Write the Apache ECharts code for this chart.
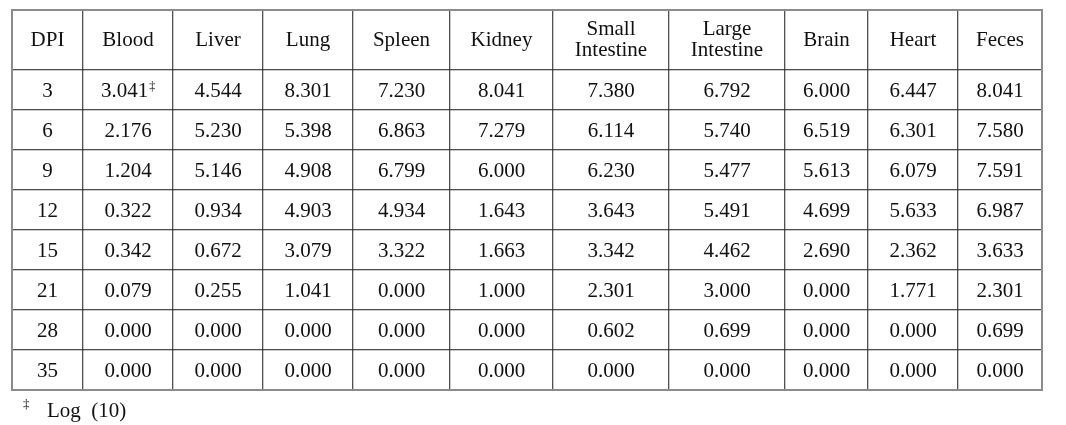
<!DOCTYPE html>
<html>
<head>
<meta charset="utf-8">
<script src="https://cdn.jsdelivr.net/npm/echarts@6/dist/echarts.min.js"></script>
<style>
html,body{margin:0;padding:0;background:#fff;}
#c{width:1066px;height:425px;}
</style>
</head>
<body>
<div id="c"></div>
<script>
// ---- data ----
const columns = ['DPI','Blood','Liver','Lung','Spleen','Kidney','Small\nIntestine','Large\nIntestine','Brain','Heart','Feces'];
const dpi = ['3','6','9','12','15','21','28','35'];
const blood = [3.041,2.176,1.204,0.322,0.342,0.079,0.000,0.000];
const liver = [4.544,5.230,5.146,0.934,0.672,0.255,0.000,0.000];
const lung = [8.301,5.398,4.908,4.903,3.079,1.041,0.000,0.000];
const spleen = [7.230,6.863,6.799,4.934,3.322,0.000,0.000,0.000];
const kidney = [8.041,7.279,6.000,1.643,1.663,1.000,0.000,0.000];
const smallIntestine = [7.380,6.114,6.230,3.643,3.342,2.301,0.602,0.000];
const largeIntestine = [6.792,5.740,5.477,5.491,4.462,3.000,0.699,0.000];
const brain = [6.000,6.519,5.613,4.699,2.690,0.000,0.000,0.000];
const heart = [6.447,6.301,6.079,5.633,2.362,1.771,0.000,0.000];
const feces = [8.041,7.580,7.591,6.987,3.633,2.301,0.699,0.000];
const footnoteMark = '\u2021';
const footnoteText = 'Log\u2002(10)';

// ---- layout ----
const colEdges = [12,83,173,263,353,450,553,669,785,868,958,1042];
const tableTop = 10, headerH = 60, bodyH = 320;
const FONT = '"Liberation Serif", "Times New Roman", serif';
const FS = 21;

const values = [null, blood, liver, lung, spleen, kidney, smallIntestine, largeIntestine, brain, heart, feces];

const grids = [], xAxes = [], yAxes = [], series = [];
const cellStyle = {color:'#ffffff', borderColor:'#262626', borderWidth:1};

// outer frame grid (drawn above the cells)
grids.push({left:colEdges[0], top:tableTop, width:colEdges[colEdges.length-1]-colEdges[0], height:headerH+bodyH,
  show:true, borderColor:'#8c8c8c', borderWidth:2, backgroundColor:'transparent', z:10});
xAxes.push({gridIndex:0, type:'category', data:['x'], show:false});
yAxes.push({gridIndex:0, type:'category', data:['y'], show:false});

columns.forEach((name, i) => {
  const left = colEdges[i], w = colEdges[i+1]-colEdges[i];
  // header grid
  const gh = grids.length;
  grids.push({left:left, top:tableTop, width:w, height:headerH});
  xAxes.push({gridIndex:gh, type:'category', data:[name], show:false});
  yAxes.push({gridIndex:gh, type:'category', data:['h'], show:false});
  series.push({
    type:'heatmap', name:'h'+i, xAxisIndex:gh, yAxisIndex:gh,
    data:[{value:[0,0,0], txt:name}],
    itemStyle:cellStyle,
    label:{show:true, fontFamily:FONT, fontSize:FS, lineHeight:21, color:'#111',
      formatter:p=>p.data.txt},
    emphasis:{disabled:true}, silent:true
  });
  // body grid
  const gb = grids.length;
  grids.push({left:left, top:tableTop+headerH, width:w, height:bodyH});
  xAxes.push({gridIndex:gb, type:'category', data:[name], show:false});
  yAxes.push({gridIndex:gb, type:'category', data:dpi, inverse:true, show:false});
  const data = dpi.map((d, r) => {
    let txt;
    if (i === 0) txt = d;
    else {
      txt = values[i][r].toFixed(3);
      if (i === 1 && r === 0) txt += '{sup|' + footnoteMark + '}';
    }
    return {value:[0, r, i === 0 ? 0 : values[i][r]], txt:txt};
  });
  series.push({
    type:'heatmap', name:name, xAxisIndex:gb, yAxisIndex:gb,
    data:data,
    itemStyle:cellStyle,
    label:{show:true, fontFamily:FONT, fontSize:FS, color:'#111', offset:[0,1],
      formatter:p=>p.data.txt,
      rich:{sup:{fontFamily:FONT, fontSize:12, color:'#111', padding:[0,0,9,1]}}},
    emphasis:{disabled:true}, silent:true
  });
});

const chart = echarts.init(document.getElementById('c'), null, {renderer:'canvas'});
chart.setOption({
  animation:false,
  backgroundColor:'#ffffff',
  title:[
    {text:footnoteMark, left:23, top:398, padding:0,
      textStyle:{fontFamily:FONT, fontSize:13, fontWeight:'normal', color:'#111'}},
    {text:footnoteText, left:47, top:401, padding:0,
      textStyle:{fontFamily:FONT, fontSize:FS, fontWeight:'normal', color:'#111'}}
  ],
  grid:grids, xAxis:xAxes, yAxis:yAxes, series:series
});
</script>
</body>
</html>
